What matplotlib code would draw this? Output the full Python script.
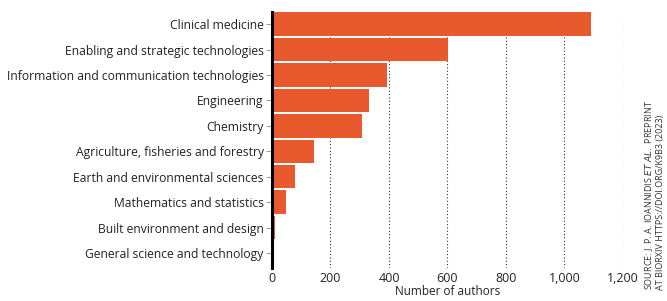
import matplotlib.pyplot as plt

# =========================
# Data
# =========================
categories = [
    "Clinical medicine",
    "Enabling and strategic technologies",
    "Information and communication technologies",
    "Engineering",
    "Chemistry",
    "Agriculture, fisheries and forestry",
    "Earth and environmental sciences",
    "Mathematics and statistics",
    "Built environment and design",
    "General science and technology",
]
authors = [1092, 603, 395, 333, 307, 143, 78, 48, 10, 1]
xticks = [0, 200, 400, 600, 800, 1000, 1200]
xtick_labels = ["0", "200", "400", "600", "800", "1,000", "1,200"]

plt.rcParams["font.family"] = ["Open Sans", "DejaVu Sans"]

fig = plt.figure(figsize=(6.67, 3.01), dpi=100)
ax = fig.add_axes([0.4078, 0.1096, 0.526, 0.850])

ypos = list(range(len(categories)))
ax.barh(ypos, authors, height=0.92, color="#e85a2e", zorder=2)
ax.set_yticks(ypos)
ax.set_yticklabels(categories, fontsize=8.7, color="#222222")
ax.set_ylim(9.59, -0.47)

ax.set_xlim(0, 1200)
ax.set_xticks(xticks)
ax.set_xticklabels(xtick_labels, fontsize=9, color="#222222")
ax.tick_params(axis="x", length=0, pad=3)
ax.tick_params(axis="y", length=4, width=0.6, color="#888888", pad=2)
ax.set_xlabel("Number of authors", fontsize=8.5, color="#222222", labelpad=0)

for x in xticks[1:]:
    ax.axvline(x, color="#333333", linestyle=(0, (1, 2)),
               linewidth=0.8, zorder=1)

for s in ["top", "right", "bottom"]:
    ax.spines[s].set_visible(False)
ax.spines["left"].set_linewidth(2.2)
ax.spines["left"].set_color("black")
ax.spines["left"].set_zorder(3)

fig.text(0.965, 0.035,
         "SOURCE: J. P. A. IOANNIDIS $\\it{ET\\ AL.}$ PREPRINT\nAT BIORXIV HTTPS://DOI.ORG/K9B3 (2023)",
         rotation=90, fontsize=6.5, color="#333333", ha="left", va="bottom",
         linespacing=1.05)

fig.savefig("out.png", dpi=100)
